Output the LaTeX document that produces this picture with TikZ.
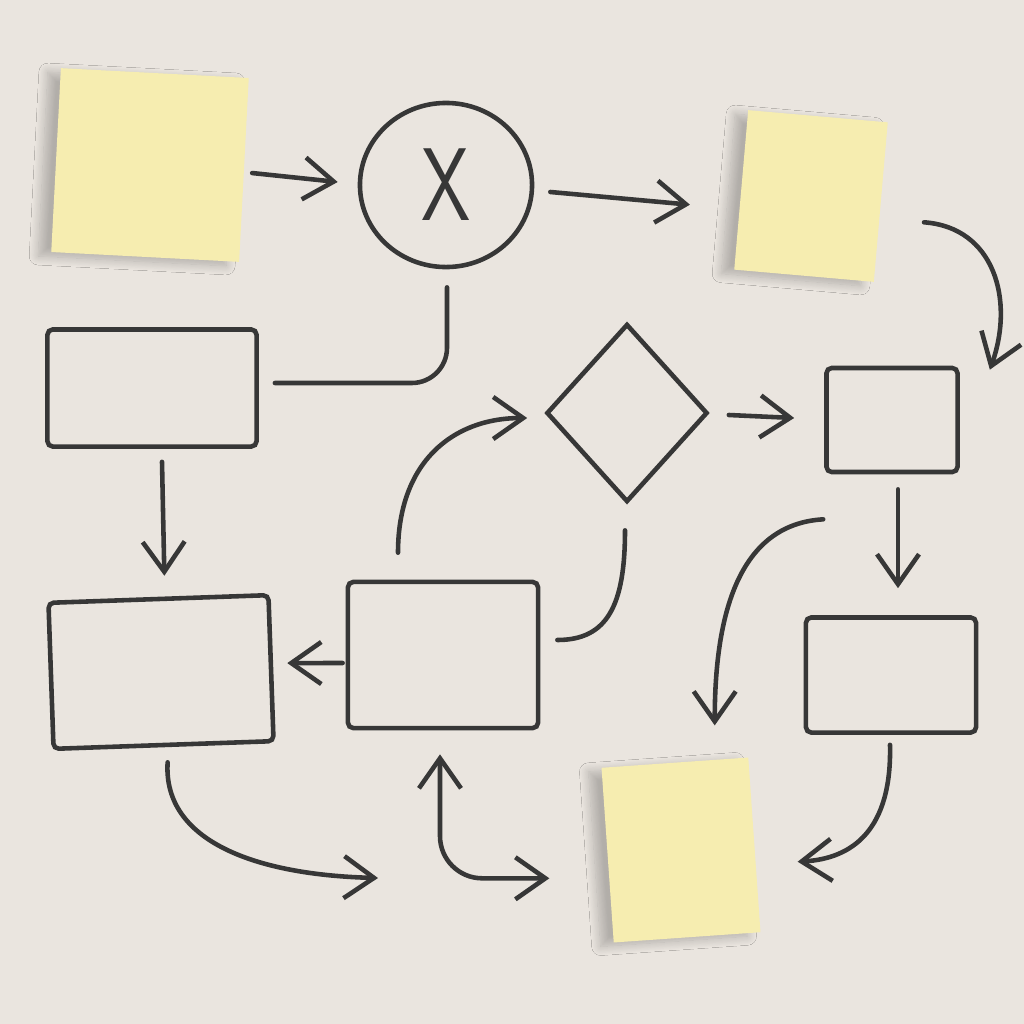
\documentclass[tikz,border=0pt]{standalone}
\usepackage{tikz}
\usetikzlibrary{arrows.meta, shapes.geometric, shadows.blur, positioning}

\definecolor{wall}{RGB}{234,229,223}
\definecolor{note}{RGB}{246,237,176}
\definecolor{ink}{RGB}{55,55,55}

\begin{document}
\begin{tikzpicture}[x=0.01cm,y=-0.01cm,color=ink,line width=1.3pt,line cap=round,
        >={Straight Barb[length=3mm,width=4.2mm]},
        box/.style={draw, rectangle, rounded corners=1.5pt, inner sep=0pt},
        sticky/.style={fill=note, rectangle, inner sep=0pt,
            blur shadow={shadow xshift=-1.3mm, shadow yshift=-0.4mm, shadow blur radius=0.9mm, shadow blur steps=12, shadow opacity=24}}]
        \useasboundingbox (0,0) rectangle (1024,1024);
        \fill[wall] (0,0) rectangle (1024,1024);

        % notes and boxes
        \node[sticky, minimum width=1.88cm, minimum height=1.84cm, rotate=-3] (s1) at (150,165) {};
        \node[draw, ellipse, inner sep=0pt, minimum width=1.72cm, minimum height=1.64cm,
            font=\sffamily\fontsize{28}{28}\selectfont] (c) at (446,185) {\scalebox{.8}[1.05]{X}};
        \node[sticky, minimum width=1.4cm, minimum height=1.6cm, rotate=-5] (s2) at (811,196) {};
        \node[box, minimum width=2.09cm, minimum height=1.17cm] (b1) at (152,388) {};
        \node[draw, diamond, inner sep=0pt, minimum width=1.61cm, minimum height=1.78cm] (d) at (627,413) {};
        \node[box, minimum width=1.31cm, minimum height=1.04cm] (b4) at (892,420) {};
        \node[box, minimum width=2.2cm, minimum height=1.46cm, rotate=2] (b2) at (161,672) {};
        \node[box, minimum width=1.9cm, minimum height=1.46cm] (b3) at (443,655) {};
        \node[box, minimum width=1.7cm, minimum height=1.15cm] (b5) at (891,675) {};
        \node[sticky, minimum width=1.47cm, minimum height=1.75cm, rotate=4] (s3) at (681,850) {};
        \coordinate (e1) at (378,878);

        % straight arrows
        \path[->] ([shift={(6,3)}]s1.east) edge ([shift={(-20,-3)}]c.west)
        ([shift={(16,7)}]c.east) edge ([shift={(-49,15)}]s2.west)
        ([shift={(10,13)}]b1.south) edge ([shift={(6,-21)}]b2.north)
        ([shift={(19,2)}]d.east) edge ([shift={(-30,-2)}]b4.west)
        ([shift={(6,15)}]b4.south) edge ([shift={(7,-27)}]b5.north)
        ([shift={(-3,8)}]b3.west) edge ([shift={(14,-5)}]b2.east)
        ;

        % curved ones
        \draw[->] ([shift={(41,20)}]s2.east) .. controls +(70,5) and +(25,-70) .. ([shift={(30,4)}]b4.north east);
        \draw[->] ([shift={(-45,-27)}]b3.north) .. controls +(0,-90) and +(-75,0) .. ([shift={(-17,5)}]d.west);
        \draw ([shift={(-2,26)}]d.south) .. controls +(0,75) and +(50,0) .. ([shift={(17,-15)}]b3.east);
        \draw[->] ([shift={(-1,45)}]b4.south west) .. controls +(-85,5) and +(0,-110) .. ([shift={(40,-35)}]s3.north);
        \draw[->] ([shift={(4,15)}]b2.south) .. controls +(-5,80) and +(-120,-3) .. (e1);
        \draw[->] ([shift={(-1,10)}]b5.south) .. controls +(2,85) and +(55,-3) .. ([shift={(41,17)}]s3.east);
        \draw[rounded corners=10pt] ([shift={(1,18)}]c.south) |- ([shift={(16,-5)}]b1.east);
        \draw[<->, rounded corners=12pt] ([shift={(-3,24)}]b3.south) |- ([shift={(-56,23)}]s3.west);
    \end{tikzpicture}
\end{document}
